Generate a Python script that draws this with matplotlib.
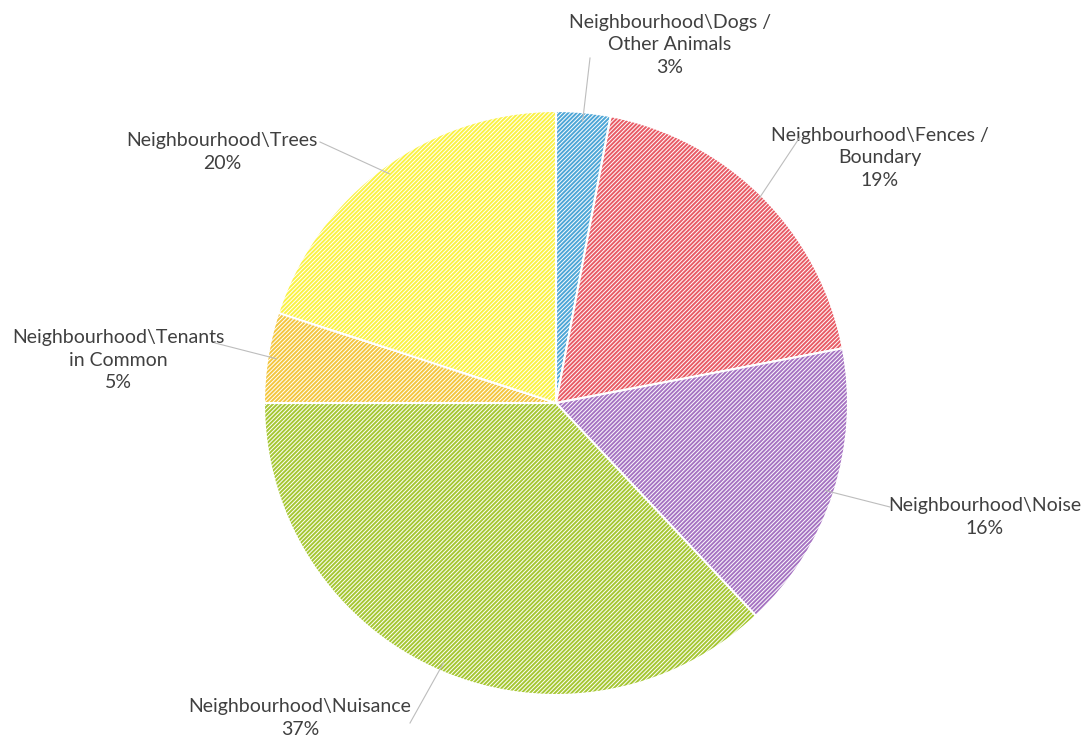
import numpy as np
import matplotlib
matplotlib.use("Agg")
import matplotlib.pyplot as plt

# slice data, clockwise from 12 o'clock
labels = ["Neighbourhood\\Dogs /\nOther Animals", "Neighbourhood\\Fences /\nBoundary",
          "Neighbourhood\\Noise", "Neighbourhood\\Nuisance",
          "Neighbourhood\\Tenants\nin Common", "Neighbourhood\\Trees"]
values = [3, 19, 16, 37, 5, 20]
colors = ["#4ea6d6", "#e85c66", "#a674c2", "#a6c733", "#f3c640", "#faf245"]

# label text anchor (pixel coords, y up) and leader end
label_pos = [(670, 693), (880, 580), (985, 221), (300, 20), (118, 378), (222, 586)]
leader_end = [(590, 680), (800, 601), (890, 231), (410, 15), (215, 395), (320, 596)]

plt.rcParams["hatch.linewidth"] = 0.7
plt.rcParams["font.family"] = ["Lato", "DejaVu Sans"]

fig = plt.figure(figsize=(10.91, 7.38), dpi=100)
ax = fig.add_axes([0, 0, 1, 1])

cx, cy, r = 556, 335, 292
wedges, _ = ax.pie(values, colors=colors, startangle=90, counterclock=False,
                   center=(cx, cy), radius=r, frame=True,
                   wedgeprops=dict(edgecolor="white", linewidth=1.5, hatch="////////"))
ax.set_xlim(0, 1091)
ax.set_ylim(0, 738)
ax.set_aspect("equal")
ax.axis("off")

for w, lab, v, (tx, ty), (ex, ey) in zip(wedges, labels, values, label_pos, leader_end):
    mid = np.deg2rad((w.theta1 + w.theta2) / 2)
    sx, sy = cx + r * 0.97 * np.cos(mid), cy + r * 0.97 * np.sin(mid)
    ax.plot([sx, ex], [sy, ey], color="#bdbdbd", lw=0.8, zorder=5)
    ax.text(tx, ty, "{}\n{}%".format(lab, v), ha="center", va="center",
            fontsize=14, color="#404040", linespacing=1.4)

plt.savefig("out.png", dpi=100, facecolor="white")
plt.close()
